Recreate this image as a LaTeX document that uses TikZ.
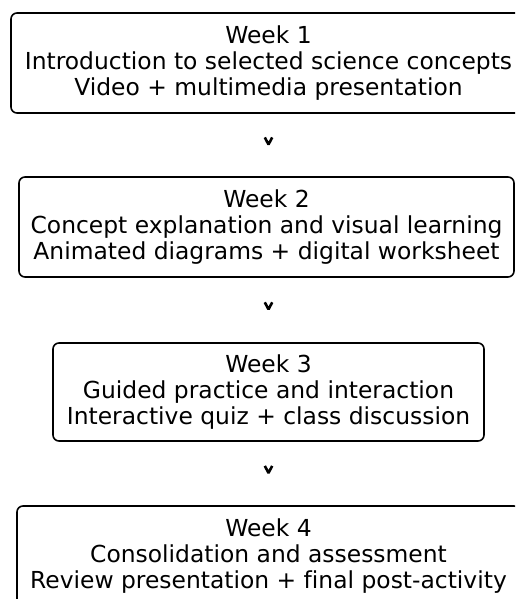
\documentclass[tikz,border=0pt]{standalone}
\usepackage{fontspec}
\setmainfont[Ligatures=NoCommon]{DejaVu Sans}
\usetikzlibrary{decorations.markings}

\begin{document}
\begin{tikzpicture}[x=1pt,y=1pt,
  weekbox/.style={draw=black, line width=1.6pt, rounded corners=6pt,
    align=center, inner sep=0pt,
    font=\fontsize{23.4}{25.8}\selectfont},
  flowstep/.style={draw=none, postaction={decorate},
    decoration={markings, mark=at position 0.44 with {
      \draw[line width=2.6pt, line join=bevel] (-3.8,3.7) -- (3.2,0) -- (-3.8,-3.7);}}}
]
\useasboundingbox (0,0) rectangle (515,-599);
\clip (0,0) rectangle (515,-599);

\node[weekbox, minimum width=515, minimum height=100] (w1) at (268.5,-63)
  {Week 1\\Introduction to selected science concepts\\Video + multimedia presentation};
\node[weekbox, minimum width=495, minimum height=100] (w2) at (266.5,-227)
  {Week 2\\Concept explanation and visual learning\\Animated diagrams + digital worksheet};
\node[weekbox, minimum width=431, minimum height=98] (w3) at (268.5,-392)
  {Week 3\\Guided practice and interaction\\Interactive quiz + class discussion};
\node[weekbox, minimum width=503, minimum height=100] (w4) at (268.5,-556)
  {Week 4\\Consolidation and assessment\\Review presentation + final post-activity};

\path[flowstep] (w1.south -| 268.5,0) -- (w2.north -| 268.5,0);
\path[flowstep] (w2.south -| 268.5,0) -- (w3.north -| 268.5,0);
\path[flowstep] (w3.south -| 268.5,0) -- (w4.north -| 268.5,0);
\end{tikzpicture}
\end{document}
